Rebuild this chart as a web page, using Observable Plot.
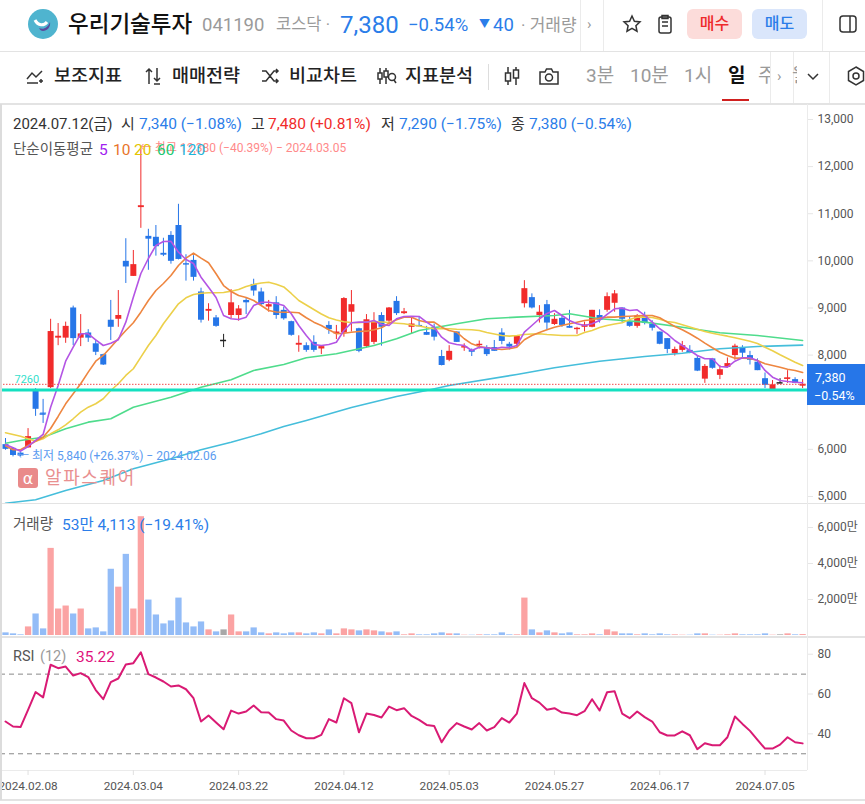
<!DOCTYPE html>
<html lang="ko"><head><meta charset="utf-8">
<script src="https://cdn.jsdelivr.net/npm/d3@7"></script>
<script src="https://cdn.jsdelivr.net/npm/@observablehq/plot@0.6"></script>
<style>
html,body{margin:0;padding:0;background:#fff;overflow:hidden;width:865px;height:804px;}
body{position:relative;font-family:Roboto,"Noto Sans CJK KR",sans-serif;color:#222;}
.t{position:absolute;white-space:nowrap;transform:translateY(-50%);line-height:1.2;}
.h{position:absolute;height:1px;background:#e3e3e3;left:0;right:0;}
.v{position:absolute;width:1px;background:#ebebeb;}
.p{position:absolute;left:0;top:0;}
.p svg{display:block;background:transparent;}
.ico{position:absolute;fill:none;stroke:#333;stroke-width:1.5;}
.btn{position:absolute;top:9px;height:30px;width:55px;border-radius:6px;text-align:center;line-height:30px;font-size:16px;font-weight:500;}
.tb{font-size:18.5px;font-weight:500;top:76px;}
.tg{font-size:19px;color:#9a9a9a;top:76px;}
</style></head><body>
<div id="pMain" class="p" style="top:104px"></div>
<div id="pVol" class="p" style="top:503px"></div>
<div id="pRsi" class="p" style="top:636px"></div>

<!-- frame lines -->
<div class="h" style="top:51px"></div><div class="h" style="top:103px;height:2px"></div>
<div class="h" style="top:503px"></div><div class="h" style="top:636px;height:2px"></div>
<div class="h" style="top:799px;height:2px"></div>
<div class="v" style="left:0;top:104px;height:696px;width:2px;background:#dcdcdc"></div>
<div class="v" style="left:807px;top:104px;height:666px"></div>
<div class="v" style="left:580px;top:0;height:51px"></div><div class="v" style="left:603px;top:0;height:51px"></div>
<div class="v" style="left:822px;top:0;height:51px"></div>
<div class="v" style="left:488px;top:64px;height:26px;background:#ddd"></div>
<div class="v" style="left:770px;top:52px;height:51px"></div><div class="v" style="left:793px;top:52px;height:51px"></div>
<div class="v" style="left:829px;top:52px;height:51px"></div>

<!-- header row -->
<svg style="position:absolute;left:28px;top:9px" width="30" height="30" viewBox="0 0 30 30"><circle cx="15" cy="15" r="15" fill="#4fb4cf"/><path d="M7 11c3 6 9 6 12 2" stroke="#fff" stroke-width="3" fill="none"/><path d="M11 19c4 2 9 0 11-6 1 5-3 9-7 9-2 0-3-1-4-3z" fill="#5b4a9e"/></svg>
<span class="t" style="left:68px;top:24px;font-size:22.5px;font-weight:500;color:#111">우리기술투자</span>
<span class="t" style="left:202px;top:25px;font-size:18.5px;color:#9a9a9a">041190</span>
<span class="t" style="left:276px;top:25px;font-size:16.5px;color:#9a9a9a">코스닥 ·</span>
<span class="t" style="left:340px;top:25px;font-size:24px;color:#2b7de9">7,380</span>
<span class="t" style="left:408px;top:25px;font-size:18.5px;color:#2b7de9">−0.54%</span>
<span class="t" style="left:479px;top:25px;font-size:11px;color:#2b7de9">▼</span>
<span class="t" style="left:493px;top:25px;font-size:18.5px;color:#2b7de9">40</span>
<span class="t" style="left:521px;top:25px;font-size:17px;color:#9a9a9a">· 거래량</span>
<span class="t" style="left:587px;top:24px;font-size:15px;color:#999">›</span>
<svg class="ico" style="left:622px;top:14px" width="20" height="20" viewBox="0 0 20 20"><path d="M10 2l2.4 5.2 5.6.7-4.1 3.8 1.1 5.5-5-2.8-5 2.8 1.1-5.5L2 7.9l5.6-.7z"/></svg>
<svg class="ico" style="left:656px;top:14px" width="18" height="20" viewBox="0 0 18 20"><rect x="3" y="3" width="12" height="16" rx="2"/><path d="M6 8h6M6 12h6M6 1.5h6v3H6z"/></svg>
<div class="btn" style="left:687px;background:#fcdcda;color:#ee2a2a">매수</div>
<div class="btn" style="left:752px;background:#dae6fb;color:#2b7de9">매도</div>
<svg class="ico" style="left:839px;top:15px" width="18" height="18" viewBox="0 0 18 18"><rect x="1" y="1" width="16" height="16" rx="3"/><path d="M11 1v16"/></svg>

<!-- toolbar row -->
<svg class="ico" style="left:26px;top:68px" width="20" height="16" viewBox="0 0 20 16"><path d="M1 11l5-6 4 4 6-6M1 15h11M15 11v4M13 13h4"/></svg>
<span class="t tb" style="left:54px">보조지표</span>
<svg class="ico" style="left:144px;top:67px" width="18" height="18" viewBox="0 0 18 18"><path d="M5 17V2M2 5l3-3 3 3M13 1v13M10 11l3 3 3-3M10 17h6"/></svg>
<span class="t tb" style="left:172px">매매전략</span>
<svg class="ico" style="left:261px;top:68px" width="19" height="16" viewBox="0 0 19 16"><path d="M1 3h4l8 10h4M1 13h4l8-10h4M15 1l2 2-2 2M15 11l2 2-2 2"/></svg>
<span class="t tb" style="left:289px">비교차트</span>
<svg class="ico" style="left:376px;top:67px" width="21" height="18" viewBox="0 0 21 18"><path d="M4 1v16M10 1v16"/><rect x="2" y="6" width="4" height="6" fill="#fff"/><rect x="8" y="4" width="4" height="6" fill="#fff"/><circle cx="16" cy="10" r="3.5"/><path d="M18 13l2 3"/></svg>
<span class="t tb" style="left:405px">지표분석</span>
<svg class="ico" style="left:503px;top:66px" width="18" height="20" viewBox="0 0 18 20"><path d="M5 1v18M13 1v18"/><rect x="2.5" y="7" width="5" height="8" fill="#fff"/><rect x="10.5" y="4" width="5" height="8" fill="#fff"/></svg>
<svg class="ico" style="left:539px;top:67px" width="20" height="18" viewBox="0 0 20 18"><path d="M1 5h5l1.5-3h5L14 5h5v12H1z"/><circle cx="10" cy="10.5" r="3.5"/></svg>
<span class="t tg" style="left:586px">3분</span>
<span class="t tg" style="left:630px">10분</span>
<span class="t tg" style="left:684px">1시</span>
<span class="t" style="left:728px;top:76px;font-size:19px;font-weight:700;color:#111">일</span>
<div style="position:absolute;left:722px;top:99px;width:27px;height:2px;background:#d0201f"></div>
<span class="t tg" style="left:758px;width:12px;overflow:hidden">주</span>
<span class="t" style="left:777px;top:76px;font-size:15px;color:#999">›</span>
<span class="t tg" style="left:792px;width:5px;overflow:hidden">월</span>
<svg class="ico" style="left:807px;top:73px" width="12" height="8" viewBox="0 0 12 8"><path d="M1 1l5 5 5-5"/></svg>
<svg class="ico" style="left:847px;top:66px" width="18" height="20" viewBox="0 0 18 20"><path d="M9 1l7.5 4.5v9L9 19l-7.5-4.5v-9z"/><circle cx="9" cy="10" r="3"/></svg>

<!-- main panel text -->
<span class="t" style="left:13px;top:124px;font-size:15px;color:#333">2024.07.12(금)</span>
<span class="t" style="left:121px;top:124px;font-size:15px;color:#333">시</span>
<span class="t" style="left:139px;top:124px;font-size:15.5px;color:#2b7de9">7,340 (−1.08%)</span>
<span class="t" style="left:251px;top:124px;font-size:15px;color:#333">고</span>
<span class="t" style="left:268px;top:124px;font-size:15.5px;color:#f12b2b">7,480 (+0.81%)</span>
<span class="t" style="left:381px;top:124px;font-size:15px;color:#333">저</span>
<span class="t" style="left:399px;top:124px;font-size:15.5px;color:#2b7de9">7,290 (−1.75%)</span>
<span class="t" style="left:511px;top:124px;font-size:15px;color:#333">종</span>
<span class="t" style="left:529px;top:124px;font-size:15.5px;color:#2b7de9">7,380 (−0.54%)</span>
<span class="t" style="left:13px;top:150px;font-size:14.5px;color:#555">단순이동평균</span>
<span class="t" style="left:99px;top:150px;font-size:15.5px;color:#a020f0">5</span>
<span class="t" style="left:113px;top:150px;font-size:15.5px;color:#e8742a">10</span>
<span class="t" style="left:134px;top:150px;font-size:15.5px;color:#e3c400">20</span>
<span class="t" style="left:157px;top:150px;font-size:15.5px;color:#20c970">60</span>
<span class="t" style="left:179px;top:150px;font-size:15.5px;color:#1fb4d8">120</span>
<div style="position:absolute;left:18px;top:468px;width:20px;height:20px;border-radius:3px;background:#e98a8a;color:#fff;font-size:16px;text-align:center;line-height:22px;font-family:'DejaVu Sans'">α</div>
<span class="t" style="left:45px;top:478px;font-size:18px;letter-spacing:1.6px;color:#e99090">알파스퀘어</span>

<!-- last price box -->
<div style="position:absolute;left:807px;top:364px;width:58px;height:41px;background:#2676e8"></div>
<span class="t" style="left:815px;top:377px;font-size:12.5px;color:#fff">7,380</span>
<span class="t" style="left:814px;top:395px;font-size:12.5px;color:#fff">−0.54%</span>

<!-- volume + rsi text -->
<span class="t" style="left:13px;top:525px;font-size:14.5px;color:#555">거래량</span>
<span class="t" style="left:62px;top:525px;font-size:15.5px;color:#2b7de9">53만 4,113 (−19.41%)</span>
<span class="t" style="left:13px;top:657px;font-size:14.5px;color:#555">RSI</span>
<span class="t" style="left:40px;top:657px;font-size:14.5px;color:#9a9a9a">(12)</span>
<span class="t" style="left:76px;top:657px;font-size:15.5px;color:#e0127c">35.22</span>

<script>
const opens=[6100,6020,5920,6030,7230,6770,7310,8360,8360,9000,8360,8470,8240,8010,8740,8760,9990,9670,11130,10520,10500,10160,10540,10750,9940,10010,9340,8930,8790,8310,8840,8840,9160,9500,9340,9020,9110,8950,8710,8210,8200,8270,8130,8630,8450,8470,8910,8560,8180,8270,8840,8720,9140,8880,8590,8630,8480,8590,7970,7890,8490,8150,8100,8200,8160,8160,8470,8230,8230,9090,9220,8840,9070,8650,8780,8610,8540,8590,8590,8840,8950,9100,9000,8710,8610,8830,8660,8490,8350,8030,8100,8100,7930,7490,7920,7570,7740,7990,8150,7990,7850,7500,7270,7410,7500,7480,7340];
const highs=[6230,6040,5950,6440,7290,7060,8760,8670,8700,9040,8860,8540,8320,8020,9160,9370,10470,10220,12380,10670,10750,10480,10620,11200,10130,10110,9420,9090,8840,8440,9390,9050,9200,9610,9420,9160,9240,9020,8720,8410,8260,8410,8190,8710,8630,9220,9370,8570,8860,8900,8900,9010,9240,8990,8790,8800,8610,8660,8100,8200,8490,8240,8130,8300,8200,8310,8560,8270,8410,9580,9300,9050,9160,8880,8860,8950,8590,8700,8950,8960,9320,9370,9000,8800,8860,8910,8730,8490,8350,8170,8290,8200,7990,7800,7930,7780,7940,8230,8200,8080,7920,7620,7460,7500,7670,7520,7480];
const lows=[5980,5840,5850,6030,6700,6550,7290,8200,8250,8200,8180,8270,7990,7780,8310,8590,9520,9670,10690,9800,10100,10090,9930,10020,9570,9570,8680,8720,8590,8160,8770,8720,8860,9250,9050,8910,8760,8740,8400,8060,8060,8060,8010,8440,8330,8380,8490,8050,8150,8220,8190,8680,8840,8860,8450,8600,8420,8300,7770,7860,8270,8080,7970,8130,7970,8080,8220,8110,8170,9000,8980,8680,8540,8630,8590,8570,8440,8490,8580,8680,8910,8910,8680,8590,8570,8640,8510,8220,8030,7980,8060,8030,7650,7400,7700,7480,7730,7890,7930,7790,7670,7290,7260,7400,7400,7390,7290];
const closes=[6000,5870,5860,6270,6850,6750,8500,8400,8610,8350,8450,8360,8060,7790,8590,8840,9870,9920,11170,10460,10300,10120,9990,10030,9910,9650,8740,8970,8610,8310,9110,8980,9110,9360,9070,9070,8840,8770,8420,8250,8100,8100,8180,8540,8490,9200,9070,8080,8750,8700,8590,9000,8880,8920,8660,8600,8420,8380,7780,8080,8270,8180,8060,8230,8010,8080,8290,8170,8400,9410,9000,8910,8680,8760,8630,8570,8570,8640,8950,8740,9240,9300,8760,8610,8830,8670,8570,8230,8120,8120,8200,8080,7660,7760,7720,7690,7820,8190,8040,7890,7670,7360,7370,7410,7510,7400,7380];
const ma5=[6103,6033,5961,6061,6188,6316,6895,7355,7871,8168,8452,8452,8325,8204,8253,8325,8699,9229,9732,10050,10326,10411,10417,10184,10029,9944,9654,9441,9223,8841,8771,8756,8805,9053,9123,9123,9095,9053,8877,8628,8416,8225,8204,8225,8274,8523,8686,8699,8699,8735,8650,8628,8771,8820,8826,8820,8699,8593,8380,8262,8225,8204,8098,8168,8155,8134,8168,8155,8204,8486,8628,8771,8883,8947,8841,8735,8665,8628,8665,8735,8862,8983,8996,8947,8962,8841,8699,8559,8452,8310,8204,8098,7992,7922,7922,7759,7744,7871,7943,7943,7886,7674,7532,7462,7440,7425,7413];
const ma10=[6076,5991,5991,6082,6173,6258,6443,6698,6967,7179,7392,7638,7871,7992,8168,8347,8523,8686,8911,9159,9371,9520,9690,9902,10057,10163,10057,9959,9726,9477,9350,9265,9223,9159,9053,8947,8915,8911,8911,8898,8792,8699,8628,8537,8452,8465,8486,8501,8508,8537,8580,8677,8750,8805,8805,8735,8699,8699,8593,8523,8486,8347,8240,8183,8155,8134,8119,8134,8168,8325,8416,8480,8537,8593,8628,8665,8699,8735,8750,8784,8805,8805,8820,8826,8834,8841,8841,8792,8699,8607,8537,8452,8359,8253,8155,8062,7992,7935,7935,7928,7886,7816,7780,7744,7701,7674,7631];
const ma20=[6352,6316,6280,6224,6173,6224,6330,6415,6521,6649,6789,6895,6967,7073,7249,7392,7568,7710,7956,8204,8416,8665,8877,9089,9216,9286,9314,9322,9322,9329,9357,9393,9456,9499,9530,9547,9503,9446,9308,9159,9064,8968,8873,8792,8745,8709,8692,8686,8703,8714,8703,8692,8677,8665,8639,8618,8586,8559,8559,8559,8548,8544,8537,8523,8480,8448,8416,8402,8416,8437,8448,8452,8437,8427,8416,8416,8416,8480,8523,8586,8628,8660,8686,8756,8805,8805,8798,8762,8714,8692,8646,8597,8550,8501,8465,8431,8402,8368,8332,8295,8247,8168,8092,8007,7928,7850,7780];
const ma60Index=[0,2,5,8,11,14,17,22,26,30,33,37,40,44,49,52,55,60,64,68,73,75,79,85,90,95,100,106];
const ma60=[6131,6188,6258,6437,6577,6649,6895,7107,7319,7476,7674,7801,7943,8028,8204,8347,8523,8665,8771,8805,8841,8877,8771,8699,8592,8474,8416,8310];
const ma120Index=[0,4,8,13,17,22,26,30,34,37,40,46,52,56,59,68,73,79,85,90,95,100,106];
const ma120=[4858,4930,5127,5340,5588,5800,5991,6152,6331,6485,6613,6889,7122,7249,7355,7589,7731,7871,7971,8041,8134,8183,8211];
const volumes=[147,92,37,478,1196,368,4840,1472,1638,1196,1472,368,423,202,3680,2686,4508,1472,6600,1969,1141,644,810,2079,700,478,754,313,202,313,1141,202,202,423,147,92,147,92,147,147,92,147,92,313,92,368,313,258,313,258,202,147,202,37,92,37,37,92,147,92,92,18,18,37,37,37,147,37,37,2079,313,147,258,147,92,147,37,37,92,37,313,202,92,92,37,92,37,92,37,37,18,18,92,92,18,18,37,92,37,37,37,92,18,37,92,37,53];
const rsi=[46.2,43.7,43.4,52,61,58.3,74.7,73,73.8,69.3,70.5,68.5,62,57.4,66,67.8,74.8,75.5,81,70,68.3,66.3,63.8,64.3,62.4,57.9,46.2,49.2,45.7,42.3,51.7,50.2,51.2,54.2,50.9,50.7,47.4,46.7,41.7,39.3,37.8,37.8,39.5,47.4,45.7,57.9,55.4,40.8,50.2,49.5,48.2,53.7,51.9,52.9,49,47,44.5,44,35.8,41.7,45.4,43.7,42.2,45.4,41.7,43.4,47.9,45.7,50.2,65.5,57.9,55.7,52.1,52.9,50.7,50.2,49.4,51.4,57.4,51.7,60.9,61.4,50.2,47.9,51.2,48.4,46.2,40.8,39.2,39.2,41.3,39.3,32.3,35.3,34.3,34.3,38.3,48.7,45,41.5,37,32.6,32.6,34.6,38.3,35.8,35.22];
const xTickIndex=[3,17,31,45,59,73,87,101];
const xTickLabels=["2024.02.08","2024.03.04","2024.03.22","2024.04.12","2024.05.03","2024.05.27","2024.06.17","2024.07.05"];
const priceTicks=[5000,6000,8000,9000,10000,11000,12000,13000];
const volumeTicks=[2000,4000,6000];
const rsiTicks=[40,60,80];
const rsiBands=[30,70];
const lastPrice=7380, markedPrice=7260;

const RED="#f12b2b",BLUE="#2676e8",BLACK="#222";
const COL={ma5:"#b455e4",ma10:"#ee8640",ma20:"#ecd04a",ma60:"#4fdc8c",ma120:"#45bedb"};
const idx=d3.range(closes.length);
const dir=i=>closes[i]>opens[i]?1:closes[i]<opens[i]?-1:0;
const candleCol=i=>dir(i)>0?RED:dir(i)<0?BLUE:BLACK;
const volCol=i=>dir(i)>0?"#fba3a3":dir(i)<0?"#93bcf7":"#a8a8a8";
const xd=[-0.665,106.65];
const FONT='Roboto,"Noto Sans CJK KR",sans-serif';
const base={width:865,marginLeft:0,marginRight:58,marginTop:0,
  x:{domain:xd,axis:null},color:{type:"identity"},
  style:{fontFamily:FONT,fontSize:"12px",background:"transparent",overflow:"visible"}};
const axisY=(ticks,fmt)=>Plot.axisY({anchor:"right",ticks,tickSize:5,tickPadding:5,stroke:"#e6e6e6",fill:"#555",label:null,tickFormat:fmt});
const maLine=(xs,ys,c,w=1.6)=>Plot.line(xs,{x:d=>d,y:(d,i)=>ys[i],stroke:c,strokeWidth:w});

const main=Plot.plot({...base,height:399,marginBottom:0,
  y:{domain:[4851,13318],axis:null},
  marks:[
    axisY(priceTicks,d3.format(",")),
    Plot.ruleX(idx,{x:i=>i,y1:i=>lows[i],y2:i=>highs[i],stroke:candleCol,strokeWidth:1}),
    Plot.ruleX(idx,{x:i=>i,y1:i=>opens[i],y2:i=>closes[i],stroke:candleCol,strokeWidth:6}),
    Plot.ruleY(idx.filter(i=>Math.abs(opens[i]-closes[i])<30),{y:i=>closes[i],x1:i=>i-0.4,x2:i=>i+0.4,stroke:candleCol,strokeWidth:1.5}),
    maLine(ma120Index,ma120,COL.ma120),
    maLine(ma60Index,ma60,COL.ma60),
    maLine(idx,ma20,COL.ma20),
    maLine(idx,ma10,COL.ma10),
    maLine(idx,ma5,COL.ma5),
    Plot.ruleY([lastPrice],{stroke:"#f24a4a",strokeWidth:1,strokeDasharray:"1.5 1.5"}),
    Plot.ruleY([markedPrice],{stroke:"#14e0c0",strokeWidth:3}),
    Plot.text([markedPrice],{x:()=>0,y:d=>d,dx:9,dy:-11,text:d=>String(d),textAnchor:"start",fill:"#35e0cc",fontSize:11}),
    Plot.text(["← 최고 12,380 (−40.39%) − 2024.03.05"],{x:()=>18,y:()=>highs[18],dy:-1,dx:-1,textAnchor:"start",fill:"#ff8a8a",fontSize:12,text:d=>d}),
    Plot.text(["← 최저 5,840 (+26.37%) − 2024.02.06"],{x:()=>1,y:()=>5840,dx:4,dy:-1,textAnchor:"start",fill:"#5b9bf0",fontSize:12,text:d=>d})
  ]});
document.getElementById("pMain").append(main);

const vol=Plot.plot({...base,height:133,marginBottom:0,
  y:{domain:[-55,7333],axis:null},
  marks:[
    axisY(volumeTicks,d=>d3.format(",")(d)+"만"),
    Plot.ruleX(idx,{x:i=>i,y1:()=>0,y2:i=>volumes[i],stroke:volCol,strokeWidth:6.3})
  ]});
document.getElementById("pVol").append(vol);

const rs=Plot.plot({...base,height:164,marginBottom:30,
  y:{domain:[21.6,88.9],axis:null},
  marks:[
    axisY(rsiTicks,d=>String(d)),
    Plot.ruleY([21.6],{stroke:"#ebebeb"}),
    Plot.axisX({anchor:"bottom",ticks:xTickIndex,tickSize:5,tickPadding:6,stroke:"#e0e0e0",fill:"#555",label:null,fontSize:11.8,
      tickFormat:d=>xTickLabels[xTickIndex.indexOf(d)]}),
    Plot.ruleY(rsiBands,{stroke:"#888",strokeDasharray:"5 4",strokeWidth:1}),
    Plot.line(idx,{x:i=>i,y:i=>rsi[i],stroke:"#d91a74",strokeWidth:2})
  ]});
document.getElementById("pRsi").append(rs);
</script>
</body></html>
